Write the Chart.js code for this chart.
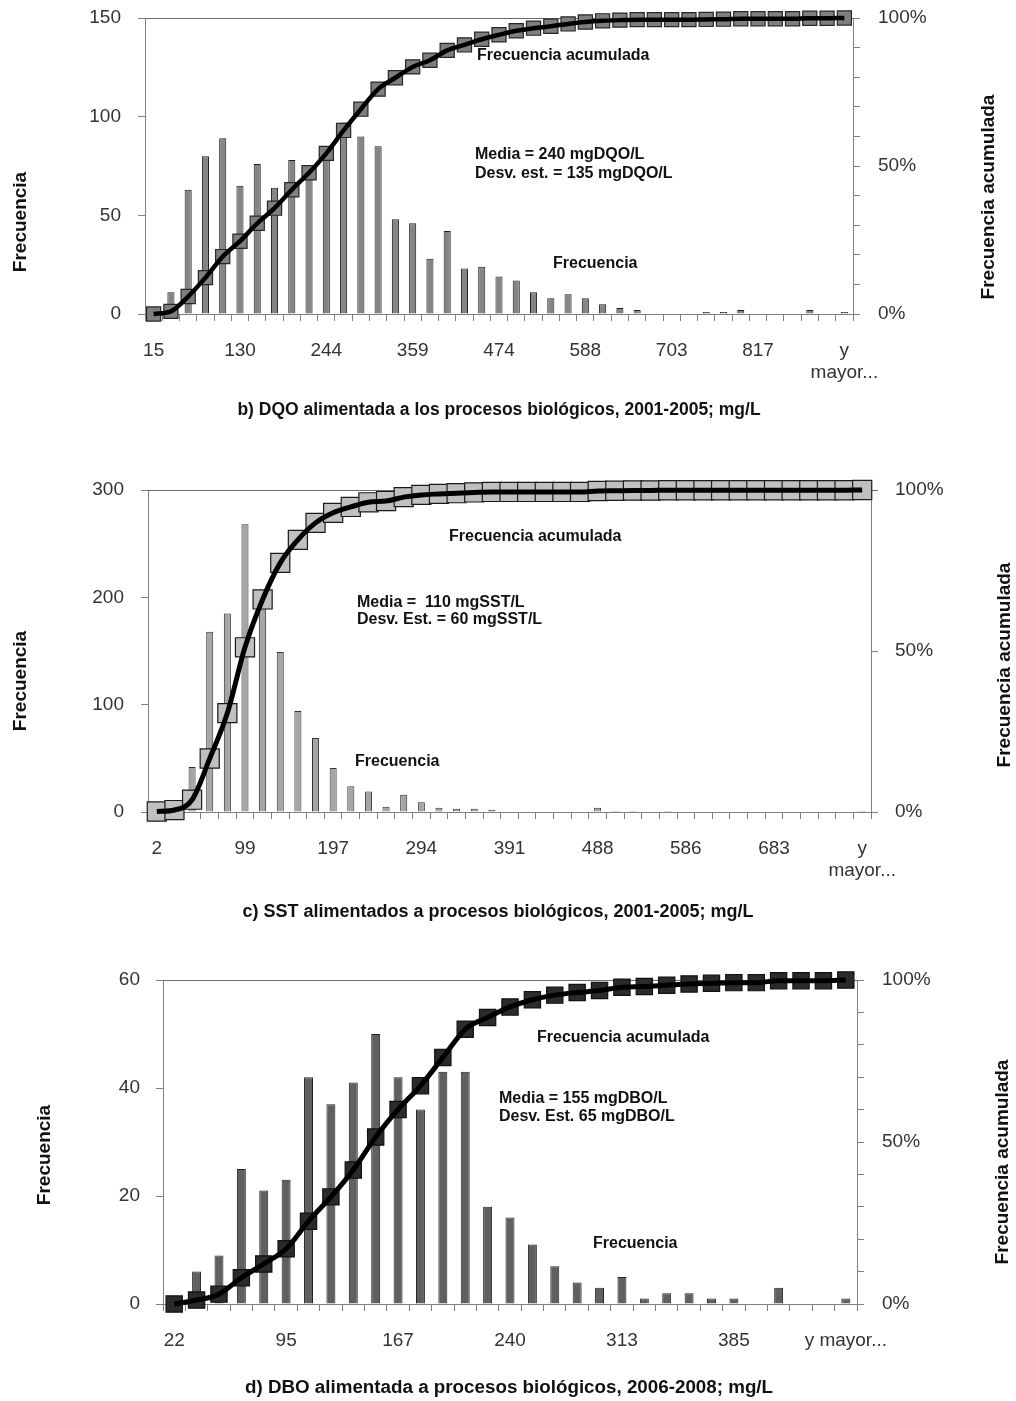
<!DOCTYPE html>
<html>
<head>
<meta charset="utf-8">
<script src="https://cdn.jsdelivr.net/npm/chart.js@4.4.0/dist/chart.umd.min.js"></script>
<style>
  html, body { margin: 0; padding: 0; background: #fff; overflow: hidden; }
  .panel { position: absolute; left: 0; width: 1016px; }
</style>
</head>
<body>
<div class="panel" style="top:-20px"><canvas id="chartDqo" width="1016" height="465"></canvas></div>
<div class="panel" style="top:445px"><canvas id="chartSst" width="1016" height="490"></canvas></div>
<div class="panel" style="top:935px"><canvas id="chartDbo" width="1016" height="466"></canvas></div>
<script>
/* ========================================
   Data
   ======================================== */

// b) DQO 2001-2005
const dqoBins = ['15', '38', '61', '84', '107', '130', '153', '175', '198', '221',
    '244', '267', '290', '313', '336', '359', '382', '405', '428', '451',
    '474', '497', '520', '542', '565', '588', '611', '634', '657', '680',
    '703', '726', '749', '772', '795', '817', '840', '863', '886', '909', 'y mayor...'];
const dqoFreq = [0, 11, 63, 80, 89, 65, 76, 64, 78, 72,
    82, 97, 90, 85, 48, 46, 28, 42, 23, 24,
    19, 17, 11, 8, 10, 8, 5, 3, 2, 0,
    0, 0, 1, 1, 2, 0, 0, 0, 2, 0, 1];
const dqoFreqTicks = [0, 50, 100, 150];

// c) SST 2001-2005
const sstBins = ['2', '21', '41', '60', '80', '99', '119', '138', '158', '177',
    '197', '216', '235', '255', '274', '294', '313', '332', '352', '371',
    '391', '410', '430', '449', '468', '488', '507', '527', '546', '566',
    '586', '605', '624', '644', '663', '683', '702', '722', '741', '760', 'y mayor...'];
const sstFreq = [2, 6, 42, 168, 185, 268, 195, 149, 94, 69,
    41, 24, 19, 5, 16, 9, 4, 3, 3, 2,
    0, 0, 0, 0, 0, 4, 1, 1, 0, 1,
    0, 0, 0, 0, 0, 0, 0, 0, 0, 0, 1];
const sstFreqTicks = [0, 100, 200, 300];

// d) DBO 2006-2008
const dboBins = ['22', '37', '51', '66', '80', '95', '109', '124', '138', '153',
    '167', '182', '196', '211', '226', '240', '255', '269', '284', '298',
    '313', '327', '342', '356', '371', '385', '400', '414', '429', '443', 'y mayor...'];
const dboFreq = [0, 6, 9, 25, 21, 23, 42, 37, 41, 50,
    42, 36, 43, 43, 18, 16, 11, 7, 4, 3,
    5, 1, 2, 2, 1, 1, 0, 3, 0, 0, 1];
const dboFreqTicks = [0, 20, 40, 60];

const pctTicks = [0, 50, 100];

/* ========================================
   Helpers
   ======================================== */

const FONT = '"Liberation Sans", Arial, sans-serif';

// cumulative percentage of a frequency list
function cumulative(freq) {
    const total = freq.reduce((a, b) => a + b, 0);
    let run = 0;
    return freq.map(v => { run += v; return run / total * 100; });
}

// text, axis titles, caption, top frame line
const notesPlugin = {
    id: 'notes',
    beforeDatasetsDraw(chart, args, opts) {
        const ctx = chart.ctx;
        const a = chart.chartArea;
        ctx.save();
        ctx.strokeStyle = '#6a6a6a';
        ctx.lineWidth = 1;
        ctx.beginPath();
        ctx.moveTo(a.left, Math.round(a.top) + 0.5);
        ctx.lineTo(a.right + (opts.topExtra || 0), Math.round(a.top) + 0.5);
        ctx.stroke();
        ctx.restore();
    },
    afterDraw(chart, args, opts) {
        const ctx = chart.ctx;
        const dy = opts.top;
        ctx.save();
        ctx.fillStyle = '#111';
        ctx.textBaseline = 'middle';
        ctx.textAlign = 'left';
        ctx.font = 'bold 16px ' + FONT;
        opts.labels.forEach(l => ctx.fillText(l.text, l.x, l.y - dy));

        ctx.textAlign = 'center';
        ctx.font = 'bold 19px ' + FONT;
        opts.titles.forEach(t => {
            ctx.save();
            ctx.translate(t.x, t.y - dy);
            ctx.rotate(-Math.PI / 2);
            ctx.fillText(t.text, 0, 0);
            ctx.restore();
        });

        ctx.font = 'bold ' + opts.caption.size + 'px ' + FONT;
        ctx.fillText(opts.caption.text, opts.caption.x, opts.caption.y - dy);
        ctx.restore();
    }
};

/**
 * Build one histogram + cumulative curve
 */
function makeChart(id, bins, freq, freqTicks, g) {
    const canvas = document.getElementById(id);
    const ctx = canvas.getContext('2d');
    const cum = cumulative(freq);
    const H = canvas.height;

    return new Chart(ctx, {
        type: 'bar',
        data: {
            labels: bins,
            datasets: [{
                type: 'line',
                data: cum,
                yAxisID: 'y1',
                borderColor: '#000',
                borderWidth: g.lineWidth,
                pointRadius: 0,
                cubicInterpolationMode: 'monotone',
                clip: false,
                order: 1
            }, {
                type: 'line',
                data: cum,
                yAxisID: 'y1',
                showLine: false,
                pointStyle: 'rect',
                pointRadius: g.markerRadius,
                pointBackgroundColor: g.markerFill,
                pointBorderColor: g.markerBorder,
                pointBorderWidth: 1.2,
                clip: false,
                order: 2
            }, {
                data: freq,
                yAxisID: 'y',
                backgroundColor: g.barFill,
                borderColor: g.barBorder,
                borderWidth: 1,
                borderSkipped: 'start',
                categoryPercentage: 1,
                barPercentage: g.barPct,
                order: 3
            }]
        },
        options: {
            responsive: false,
            animation: false,
            events: [],
            layout: { padding: { top: g.plotTop - g.top, left: 0, right: 0, bottom: 0 } },
            plugins: {
                legend: { display: false },
                tooltip: { enabled: false },
                notes: g.notes
            },
            scales: {
                x: {
                    afterFit: s => { s.height = g.top + H - g.plotBottom; },
                    border: { color: '#808080' },
                    grid: { drawOnChartArea: false, tickLength: 7, color: '#808080', offset: true },
                    ticks: {
                        autoSkip: false,
                        maxRotation: 0,
                        minRotation: 0,
                        padding: g.xPad,
                        color: '#333',
                        font: { family: FONT, size: 19 },
                        callback: function (value, index) {
                            if (index % 5 !== 0) return '';
                            const lbl = this.getLabelForValue(value);
                            if (g.wrapLast && lbl.indexOf(' ') > 0) return lbl.split(' ');
                            return lbl;
                        }
                    }
                },
                y: {
                    position: 'left',
                    min: freqTicks[0],
                    max: freqTicks[freqTicks.length - 1],
                    afterFit: s => { s.width = g.left; },
                    afterBuildTicks: s => { s.ticks = freqTicks.map(v => ({ value: v })); },
                    border: { color: '#808080' },
                    grid: { drawOnChartArea: false, tickLength: 7, color: '#808080' },
                    ticks: { padding: g.yPad, color: '#333', font: { family: FONT, size: 19 } }
                },
                y1: {
                    position: 'right',
                    min: pctTicks[0],
                    max: pctTicks[pctTicks.length - 1],
                    afterFit: s => { s.width = 1016 - g.right; },
                    border: { color: '#808080' },
                    grid: { drawOnChartArea: false, tickLength: 7, color: '#808080' },
                    ticks: {
                        stepSize: g.pctStep,
                        padding: g.y1Pad,
                        color: '#333',
                        font: { family: FONT, size: 19 },
                        callback: v => pctTicks.includes(v) ? v + '%' : ''
                    }
                }
            }
        },
        plugins: [notesPlugin]
    });
}

/* ========================================
   Charts
   ======================================== */

makeChart('chartDqo', dqoBins, dqoFreq, dqoFreqTicks, {
    top: -20, left: 145, right: 853, plotTop: 18, plotBottom: 314,
    xPad: 18, yPad: 17, y1Pad: 18, pctStep: 5, wrapLast: true,
    barFill: '#858585', barBorder: '#1f1f1f', barPct: 0.41,
    markerFill: '#7f7f7f', markerBorder: '#262626', markerRadius: 10, lineWidth: 4.5,
    notes: {
        top: -20,
        labels: [
            { text: 'Frecuencia acumulada', x: 477, y: 56 },
            { text: 'Media = 240 mgDQO/L', x: 475, y: 155 },
            { text: 'Desv. est. = 135 mgDQO/L', x: 475, y: 174 },
            { text: 'Frecuencia', x: 553, y: 264 }
        ],
        titles: [
            { text: 'Frecuencia', x: 21, y: 222 },
            { text: 'Frecuencia acumulada', x: 989, y: 197 }
        ],
        caption: { text: 'b) DQO alimentada a los procesos biológicos, 2001-2005; mg/L', x: 499, y: 410, size: 17.5 }
    }
});

makeChart('chartSst', sstBins, sstFreq, sstFreqTicks, {
    top: 445, left: 148, right: 871, plotTop: 490, plotBottom: 812,
    xPad: 18, yPad: 17, y1Pad: 17, pctStep: 50, wrapLast: true,
    barFill: '#a6a6a6', barBorder: '#333', barPct: 0.4,
    markerFill: '#c0c0c0', markerBorder: '#1a1a1a', markerRadius: 13.5, lineWidth: 5,
    notes: {
        top: 445,
        topExtra: 7,
        labels: [
            { text: 'Frecuencia acumulada', x: 449, y: 537 },
            { text: 'Media =  110 mgSST/L', x: 357, y: 603 },
            { text: 'Desv. Est. = 60 mgSST/L', x: 357, y: 620 },
            { text: 'Frecuencia', x: 355, y: 762 }
        ],
        titles: [
            { text: 'Frecuencia', x: 21, y: 681 },
            { text: 'Frecuencia acumulada', x: 1005, y: 665 }
        ],
        caption: { text: 'c) SST alimentados a procesos biológicos, 2001-2005; mg/L', x: 498, y: 912, size: 18 }
    }
});

makeChart('chartDbo', dboBins, dboFreq, dboFreqTicks, {
    top: 935, left: 163, right: 857, plotTop: 980, plotBottom: 1304,
    xPad: 18, yPad: 16, y1Pad: 18, pctStep: 5, wrapLast: false,
    barFill: '#606060', barBorder: '#222', barPct: 0.4,
    markerFill: '#2b2b2b', markerBorder: '#111', markerRadius: 11.5, lineWidth: 5,
    notes: {
        top: 935,
        labels: [
            { text: 'Frecuencia acumulada', x: 537, y: 1038 },
            { text: 'Media = 155 mgDBO/L', x: 499, y: 1099 },
            { text: 'Desv. Est. 65 mgDBO/L', x: 499, y: 1117 },
            { text: 'Frecuencia', x: 593, y: 1244 }
        ],
        titles: [
            { text: 'Frecuencia', x: 45, y: 1155 },
            { text: 'Frecuencia acumulada', x: 1003, y: 1162 }
        ],
        caption: { text: 'd) DBO alimentada a procesos biológicos, 2006-2008; mg/L', x: 509, y: 1388, size: 18.8 }
    }
});
</script>
</body>
</html>
